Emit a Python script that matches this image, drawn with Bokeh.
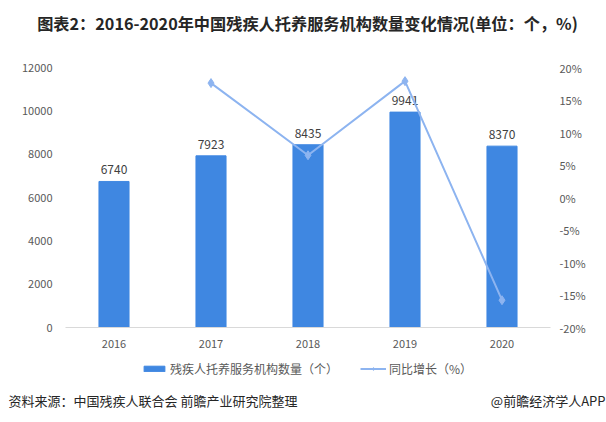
from bokeh.plotting import figure
from bokeh.layouts import column
from bokeh.core.properties import value
from bokeh.models import (FactorRange, Range1d, LinearAxis, Legend, LegendItem,
                          ColumnDataSource, FixedTicker, CustomJSTickFormatter)
from bokeh.embed import file_html
from bokeh.resources import INLINE

years = ["2016", "2017", "2018", "2019", "2020"]
counts = [6740, 7923, 8435, 9941, 8370]
growth_years = ["2017", "2018", "2019", "2020"]
growth = [17.6, 6.5, 17.9, -15.8]
left_ticks = [0, 2000, 4000, 6000, 8000, 10000, 12000]
right_ticks = [-20, -15, -10, -5, 0, 5, 10, 15, 20]

title_text = "图表2：2016-2020年中国残疾人托养服务机构数量变化情况(单位：个，%)"
bar_name = "残疾人托养服务机构数量（个）"
line_name = "同比增长（%）"
source_text = "资料来源：中国残疾人联合会 前瞻产业研究院整理"
brand_text = "@前瞻经济学人APP"

FONT = "Noto Sans CJK SC"
BAR_C = "#3F87E1"
LINE_C = "#8DB4F0"
TXT_C = "#595959"
W = 606


def blank(height):
    f = figure(width=W, height=height, x_range=Range1d(0, W), y_range=Range1d(0, height),
               output_backend="svg", toolbar_location=None, min_border=0,
               x_axis_location=None, y_axis_location=None)
    f.frame_align = False
    f.outline_line_color = None
    f.grid.grid_line_color = None
    return f


# ---- title strip
top = blank(45)
top.text(x=[307], y=[23], text=[title_text], text_align="center", text_baseline="middle",
         text_font=value(FONT), text_font_size="16.2px", text_font_style="bold",
         text_color="#262626")

# ---- main chart
p = figure(x_range=FactorRange(*years), y_range=Range1d(0, 12000),
           width=W, height=312, output_backend="svg", toolbar_location=None,
           min_border_left=65, min_border_right=56, min_border_top=22, min_border_bottom=30)
p.frame_align = False
p.outline_line_color = None
p.grid.grid_line_color = None
p.extra_y_ranges = {"pct": Range1d(-20, 20)}

src = ColumnDataSource(dict(x=years, y=counts, lab=[str(c) for c in counts]))
p.vbar(x="x", top="y", width=0.31, source=src, color=BAR_C)
p.text(x="x", y="y", text="lab", source=src, text_align="center", text_baseline="bottom",
       y_offset=-7, text_font_size="12px", text_color="#404040", text_font=value(FONT))

lsrc = ColumnDataSource(dict(x=growth_years, y=growth))
p.line(x="x", y="y", source=lsrc, y_range_name="pct", line_color=LINE_C, line_width=2)
p.scatter(x="x", y="y", source=lsrc, y_range_name="pct", marker="diamond", size=9,
          fill_color=LINE_C, line_color=LINE_C)

ya = p.yaxis[0]
ya.ticker = FixedTicker(ticks=left_ticks)
ra = LinearAxis(y_range_name="pct", ticker=FixedTicker(ticks=right_ticks),
                formatter=CustomJSTickFormatter(code="return tick + '%';"))
p.add_layout(ra, "right")
for ax in [ya, ra, p.xaxis[0]]:
    ax.axis_line_color = None
    ax.major_tick_line_color = None
    ax.minor_tick_line_color = None
    ax.major_label_text_font_size = "11px"
    ax.major_label_text_color = TXT_C
    ax.major_label_text_font = FONT
ya.major_label_standoff = 7
ra.major_label_standoff = 3
p.xaxis[0].axis_line_color = "#D9D9D9"
p.xaxis[0].major_label_standoff = 6

# ---- legend and footer strip
bot = blank(65)
e_bar = bot.vbar(x=[-500], top=[0], width=1, color=BAR_C)
e_line = bot.line(x=[-500, -499], y=[0, 0], line_color=LINE_C, line_width=2)
e_mk = bot.scatter(x=[-500], y=[0], marker="diamond", size=7, fill_color=LINE_C,
                   line_color=LINE_C)
legend = Legend(items=[LegendItem(label=bar_name, renderers=[e_bar]),
                       LegendItem(label=line_name, renderers=[e_line, e_mk])],
                orientation="horizontal", location=(141, 45),
                glyph_width=26, glyph_height=7, label_standoff=3, spacing=22,
                padding=0, margin=0, border_line_color=None, background_fill_alpha=0,
                label_text_font=FONT, label_text_font_size="12px", label_text_color=TXT_C)
bot.add_layout(legend, "center")
bot.text(x=[8], y=[22], text=[source_text], text_align="left", text_baseline="middle",
         text_font=value(FONT), text_font_size="13px", text_color="#262626")
bot.text(x=[605], y=[22], text=[brand_text], text_align="right", text_baseline="middle",
         text_font=value(FONT), text_font_size="13px", text_color="#262626")

layout = column(top, p, bot, spacing=0)
open("out.html", "w").write(file_html(layout, INLINE))
